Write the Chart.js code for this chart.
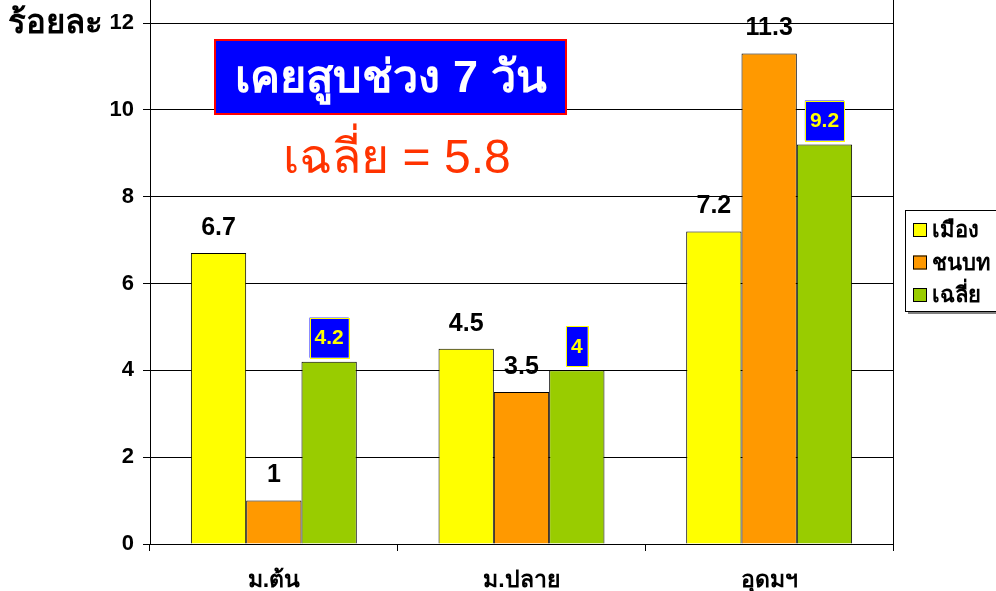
<!DOCTYPE html>
<html><head><meta charset="utf-8">
<script src="https://cdn.jsdelivr.net/npm/chart.js@4.4.1/dist/chart.umd.min.js"></script>
<style>html,body{margin:0;padding:0;background:#fff}#wrap{width:996px;height:591px}</style>
</head><body><div id="wrap"><canvas id="c" width="996" height="591"></canvas></div>
<script>
const categories = ['ม.ต้น', 'ม.ปลาย', 'อุดมฯ'];
const seriesNames = ['เมือง', 'ชนบท', 'เฉลี่ย'];
const cityValues = [6.7, 4.5, 7.2];
const ruralValues = [1, 3.5, 11.3];
const averageValues = [4.2, 4, 9.2];
const yTicks = [0, 2, 4, 6, 8, 10, 12];
const titleText = 'เคยสูบช่วง 7 วัน';
const subtitleText = 'เฉลี่ย = 5.8';
const yTitle = 'ร้อยละ';

const FONT = "'Liberation Sans', Arial, sans-serif";
const colors = ['#FFFF00', '#FF9900', '#99CC00'];

const overlay = {
  id: 'overlay',
  afterDraw(chart) {
    const ctx = chart.ctx, ca = chart.chartArea;
    ctx.save();
    ctx.strokeStyle = '#000'; ctx.lineWidth = 1;
    ctx.beginPath(); ctx.moveTo(Math.round(ca.right) + 0.5, 0); ctx.lineTo(Math.round(ca.right) + 0.5, ca.bottom + 6); ctx.stroke();
    ctx.beginPath(); ctx.moveTo(Math.round(ca.left) + 0.5, 0); ctx.lineTo(Math.round(ca.left) + 0.5, ca.bottom); ctx.stroke();

    // y title
    ctx.fillStyle = '#000';
    ctx.font = 'bold 33px ' + FONT;
    ctx.textAlign = 'left'; ctx.textBaseline = 'middle';
    ctx.fillText(yTitle, 8, 24);

    // data labels
    chart.data.datasets.forEach((ds, di) => {
      const meta = chart.getDatasetMeta(di);
      meta.data.forEach((bar, i) => {
        const txt = String(ds.data[i]);
        if (di < 2) {
          ctx.font = 'bold 25px ' + FONT;
          ctx.fillStyle = '#000';
          ctx.textAlign = 'center'; ctx.textBaseline = 'middle';
          ctx.fillText(txt, bar.x, bar.y - 25);
        } else {
          ctx.font = 'bold 21px ' + FONT;
          const w = ctx.measureText(txt).width + 10;
          const h = 40;
          const bx = bar.x - w / 2, by = bar.y - 4 - h;
          ctx.fillStyle = '#0000FF';
          ctx.fillRect(bx, by, w, h);
          ctx.strokeStyle = '#FFFF00'; ctx.lineWidth = 1;
          ctx.strokeRect(Math.round(bx) + 0.5, Math.round(by) + 0.5, Math.round(w), h);
          ctx.fillStyle = '#FFFF00';
          ctx.textAlign = 'center'; ctx.textBaseline = 'middle';
          ctx.fillText(txt, bar.x, by + h / 2 + 1);
        }
      });
    });

    // title box
    ctx.fillStyle = '#0000FF';
    ctx.fillRect(215, 40, 351, 74);
    ctx.strokeStyle = '#FF0000'; ctx.lineWidth = 2;
    ctx.strokeRect(215, 40, 351, 74);
    ctx.fillStyle = '#FFFFFF';
    ctx.font = 'bold 45px ' + FONT;
    ctx.textAlign = 'center'; ctx.textBaseline = 'middle';
    ctx.fillText(titleText, 391, 80);

    ctx.fillStyle = '#FF3300';
    ctx.font = '48px ' + FONT;
    ctx.fillText(subtitleText, 397, 160);

    // legend
    const lx = ca.right + 12, ly = 210, lw = 100, lh = 101;
    ctx.fillStyle = '#808080';
    ctx.fillRect(lx + 3, ly + 3, lw, lh);
    ctx.fillStyle = '#fff';
    ctx.fillRect(lx, ly, lw, lh);
    ctx.strokeStyle = '#000'; ctx.lineWidth = 1;
    ctx.strokeRect(Math.round(lx) + 0.5, ly + 0.5, lw, lh);
    ctx.font = 'bold 22px ' + FONT;
    ctx.textAlign = 'left'; ctx.textBaseline = 'middle';
    seriesNames.forEach((n, i) => {
      const y = ly + 20 + i * 32.5;
      ctx.fillStyle = colors[i];
      ctx.fillRect(lx + 8, y - 7, 14, 14);
      ctx.strokeStyle = '#000';
      ctx.strokeRect(lx + 8.5, y - 6.5, 13, 13);
      ctx.fillStyle = '#000';
      ctx.fillText(n, lx + 27, y + 1);
    });
    ctx.restore();
  }
};

new Chart(document.getElementById('c'), {
  type: 'bar',
  data: {
    labels: categories,
    datasets: [
      { label: seriesNames[0], data: cityValues, backgroundColor: colors[0], borderColor: '#000', borderWidth: 1 },
      { label: seriesNames[1], data: ruralValues, backgroundColor: colors[1], borderColor: '#000', borderWidth: 1 },
      { label: seriesNames[2], data: averageValues, backgroundColor: colors[2], borderColor: '#000', borderWidth: 1 }
    ]
  },
  options: {
    responsive: false,
    animation: false,
    devicePixelRatio: 1,
    layout: { padding: { left: 10, right: 103, top: 0, bottom: 0 } },
    datasets: { bar: { categoryPercentage: 0.67, barPercentage: 1.0 } },
    plugins: { legend: { display: false }, tooltip: { enabled: false } },
    scales: {
      x: {
        grid: { offset: true, drawOnChartArea: false, color: '#000', tickLength: 7 },
        border: { color: '#000' },
        ticks: { color: '#000', font: { family: FONT, size: 23, weight: 'bold' }, padding: 16 },
        afterFit(s) { s.height = 47; s.paddingLeft = 0; s.paddingRight = 0; }
      },
      y: {
        min: 0, max: 12.53,
        afterBuildTicks(s) { s.ticks = yTicks.map(v => ({ value: v })); },
        grid: { color: '#000', tickLength: 7 },
        border: { color: '#000' },
        ticks: { color: '#000', font: { family: FONT, size: 22, weight: 'bold' }, padding: 9 },
        afterFit(s) { s.width = 140; s.paddingTop = 0; s.paddingBottom = 0; }
      }
    }
  },
  plugins: [overlay]
});
</script></body></html>
